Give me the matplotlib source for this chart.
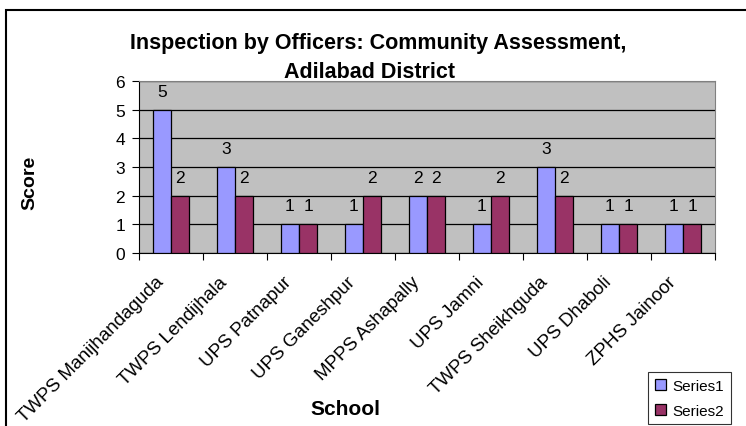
import matplotlib
matplotlib.use("Agg")
import matplotlib.pyplot as plt
import numpy as np
from matplotlib.patches import Rectangle

schools = ["TWPS Manijhandaguda", "TWPS Lendijhala", "UPS Patnapur", "UPS Ganeshpur",
           "MPPS Ashapally", "UPS Jamni", "TWPS Sheikhguda", "UPS Dhaboli", "ZPHS Jainoor"]
series1 = [5, 3, 1, 1, 2, 1, 3, 1, 1]
series2 = [2, 2, 1, 2, 2, 2, 2, 1, 1]
yticks = [0, 1, 2, 3, 4, 5, 6]

plt.rcParams['font.family'] = ['Liberation Sans', 'DejaVu Sans']

W, H = 746, 427
fig = plt.figure(figsize=(W/100, H/100), dpi=100)
fig.patch.set_facecolor('white')
# outer chart border
fig.add_artist(Rectangle((6/W, -0.01), 1.0, 1 - 11/H + 0.01, transform=fig.transFigure,
                         fill=False, edgecolor='black', linewidth=1.5))

left, right, top, bottom = 139, 715, 82, 254
ax = fig.add_axes([left/W, 1 - bottom/H, (right-left)/W, (bottom-top)/H])
ax.set_facecolor('#c0c0c0')

x = np.arange(len(schools))
bw = 1/3.5
b1 = ax.bar(x - bw/2, series1, bw, color='#9999ff', edgecolor='black', linewidth=0.9, label='Series1', zorder=3)
b2 = ax.bar(x + bw/2, series2, bw, color='#993366', edgecolor='black', linewidth=0.9, label='Series2', zorder=3)
for rects, vals in ((b1, series1), (b2, series2)):
    for r, v in zip(rects, vals):
        ax.text(r.get_x() + r.get_width()/2, v + 0.65, str(v), ha='center', va='center',
                fontsize=12.5, zorder=4)

ax.set_xlim(-0.5, len(schools) - 0.5)
ax.set_ylim(0, 6)
ax.set_yticks(yticks)
ax.set_yticklabels([str(t) for t in yticks], fontsize=12.5)
ax.yaxis.grid(True, color='black', linewidth=0.9, zorder=1)
ax.set_axisbelow(True)
ax.set_xticks(np.arange(len(schools) + 1) - 0.5, minor=False)
ax.set_xticklabels([''] * (len(schools) + 1))
ax.tick_params(axis='x', length=5, direction='out')
ax.tick_params(axis='y', length=5, direction='out', pad=5)
for s in ['top', 'right']:
    ax.spines[s].set_color('#808080')
ax.spines['left'].set_color('black')
ax.spines['bottom'].set_color('black')

for i, name in enumerate(schools):
    ax.text(i - 0.25, -0.7, name, rotation=45, ha='right', va='top', fontsize=13.5,
            rotation_mode='anchor')

fig.text(30/W, 1 - 183/H, 'Score', fontsize=14, fontweight='bold', ha='center', va='center',
         rotation=90)
fig.text(345/W, 1 - 410/H, 'School', fontsize=15, fontweight='bold', ha='center', va='center')
fig.text(378/W, 1 - 43/H, 'Inspection by Officers: Community Assessment,', fontsize=15.5,
         fontweight='bold', ha='center', va='center')
fig.text(370/W, 1 - 72/H, 'Adilabad District', fontsize=15.5,
         fontweight='bold', ha='center', va='center')

leg = fig.legend(handles=[b1, b2], loc='upper left', bbox_to_anchor=(648/W, 1 - 373/H),
                 frameon=True, fancybox=False, edgecolor='black', fontsize=11,
                 handlelength=0.75, handleheight=0.75, handletextpad=0.4, borderpad=0.45,
                 labelspacing=0.7, borderaxespad=0)
leg.get_frame().set_linewidth(0.8)

fig.savefig('out.png', dpi=100)
